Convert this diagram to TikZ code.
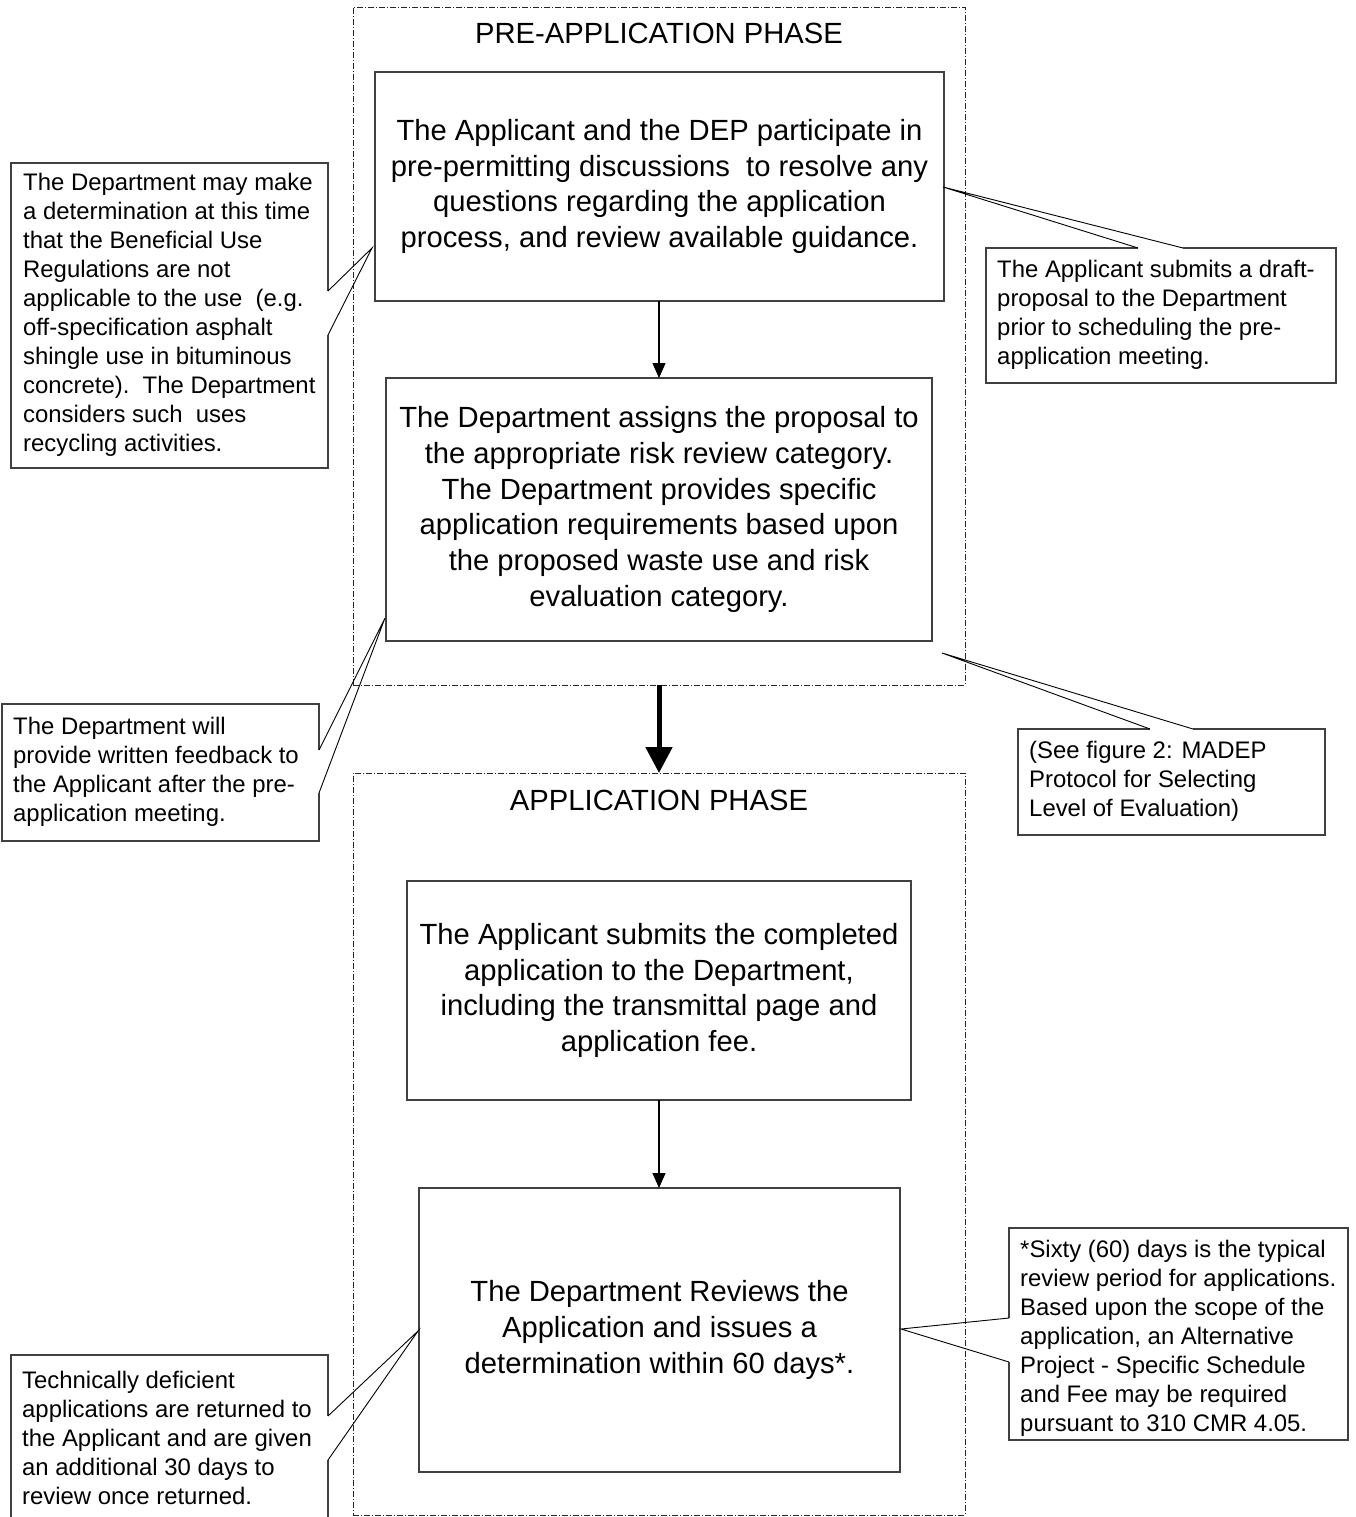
\documentclass[tikz,border=0pt]{standalone}
\usepackage{fontspec}
\setmainfont{Liberation Sans}
\usetikzlibrary{arrows.meta}
\newcommand\bigtxt{\fontsize{29.2}{35.7}\selectfont}
\newcommand\smalltxt{\fontsize{23.9}{29}\selectfont}
\begin{document}
\begin{tikzpicture}[x=1pt,y=-1pt,
  phase/.style={draw=black!85, line width=0.9pt, dash pattern=on 6pt off 2pt on 1pt off 2pt, inner sep=0pt, outer sep=0pt},
  mainbox/.style={draw=black!75, line width=1.5pt, inner sep=0pt, outer sep=0pt, align=center, font=\bigtxt},
  title/.style={font=\bigtxt, inner sep=0pt},
  cbox/.style={inner sep=0pt, outer sep=0pt},
  ctext/.style={font=\smalltxt, align=left, inner sep=0pt, anchor=west},
  cedge/.style={draw=black!75, line width=1.3pt, line join=miter},
  cptr/.style={draw=black, line width=0.9pt},
  flow/.style={-{Triangle[length=15pt,width=13pt]}, line width=1.2pt},
  bigflow/.style={-{Triangle[length=26pt,width=26pt]}, line width=5pt}]
\useasboundingbox[fill=white] (0,0) rectangle (1356,1517);
\clip (0,0) rectangle (1356,1517);

% phase frames
\node[phase, minimum width=612pt, minimum height=678pt] (pre) at (659,346) {};
\node[phase, minimum width=612pt, minimum height=742pt] (app) at (659,1144) {};
\node[title] (pretitle) at (659,33) {PRE-APPLICATION PHASE};
\node[title] (apptitle) at (659,800) {APPLICATION PHASE};

% main boxes
\node[mainbox, minimum width=569pt, minimum height=229pt] (A) at (659.5,186.5)
  {The Applicant and the DEP participate in\\pre-permitting discussions\ \ to resolve any\\questions regarding the application\\process, and review available guidance.};
\node[mainbox, minimum width=546pt, minimum height=263pt] (B) at (659,509.5)
  {The Department assigns the proposal to\\the appropriate risk review category.\\The Department provides specific\\application requirements based upon\\the proposed waste use and risk\\evaluation category.};
\node[mainbox, minimum width=504pt, minimum height=219pt] (C) at (659,990.5)
  {The Applicant submits the completed\\application to the Department,\\including the transmittal page and\\application fee.};
\node[mainbox, minimum width=481pt, minimum height=284pt] (D) at (659.5,1330)
  {The Department Reviews the\\Application and issues a\\determination within 60 days*.};

% flow arrows
\draw[flow] (A.south -| 659,0) -- (B.north -| 659,0);
\draw[bigflow] (pre.south) -- (app.north);
\draw[flow] (C.south -| 659,0) -- (D.north -| 659,0);

% callout L1
\node[cbox, minimum width=317pt, minimum height=305pt] (L1b) at (169.5,315.5) {};
\node[ctext] (L1) at (23,315) {The Department may make\\a determination at this time\\that the Beneficial Use\\Regulations are not\\applicable to the use\ \ (e.g.\\off-specification asphalt\\shingle use in bituminous\\concrete).\ \ The Department\\considers such\ \ uses\\recycling activities.};
\coordinate (L1t) at (372,248);
\coordinate (L1p) at (328,291);
\coordinate (L1q) at (328,335);
\draw[cedge] (L1p) -- (L1b.north east) -- (L1b.north west) -- (L1b.south west) -- (L1b.south east) -- (L1q);
\draw[cptr] (L1p) -- (L1t) -- (L1q);

% callout R1
\node[cbox, minimum width=350pt, minimum height=135pt] (R1b) at (1161,315.5) {};
\node[ctext] (R1) at (997,314.5) {The Applicant submits a draft-\\proposal to the Department\\prior to scheduling the pre-\\application meeting.};
\coordinate (R1t) at (943,187);
\coordinate (R1p) at (1138,248);
\coordinate (R1q) at (1183,248);
\draw[cedge] (R1q) -- (R1b.north east) -- (R1b.south east) -- (R1b.south west) -- (R1b.north west) -- (R1p);
\draw[cptr] (R1p) -- (R1t) -- (R1q);

% callout L2
\node[cbox, minimum width=317pt, minimum height=137pt] (L2b) at (160.5,772.5) {};
\node[ctext] (L2) at (13,771.5) {The Department will\\provide written feedback to\\the Applicant after the pre-\\application meeting.};
\coordinate (L2t) at (385,618);
\coordinate (L2p) at (319,750);
\coordinate (L2q) at (319,793);
\draw[cedge] (L2p) -- (L2b.north east) -- (L2b.north west) -- (L2b.south west) -- (L2b.south east) -- (L2q);
\draw[cptr] (L2p) -- (L2t) -- (L2q);

% callout R2
\node[cbox, minimum width=307pt, minimum height=106pt] (R2b) at (1171.5,782) {};
\node[ctext] (R2) at (1029,781) {(See figure 2: MADEP\\Protocol for Selecting\\Level of Evaluation)};
\coordinate (R2t) at (942,653);
\coordinate (R2p) at (1150,729);
\coordinate (R2q) at (1193,729);
\draw[cedge] (R2q) -- (R2b.north east) -- (R2b.south east) -- (R2b.south west) -- (R2b.north west) -- (R2p);
\draw[cptr] (R2p) -- (R2t) -- (R2q);

% callout L3
\node[cbox, minimum width=317pt, minimum height=170pt] (L3b) at (169.5,1440) {};
\node[ctext] (L3) at (22,1438) {Technically deficient\\applications are returned to\\the Applicant and are given\\an additional 30 days to\\review once returned.};
\coordinate (L3t) at (418,1331);
\coordinate (L3p) at (328,1416);
\coordinate (L3q) at (328,1460);
\draw[cedge] (L3p) -- (L3b.north east) -- (L3b.north west) -- (L3b.south west) -- (L3b.south east) -- (L3q);
\draw[cptr] (L3p) -- (L3t) -- (L3q);

% callout R3
\node[cbox, minimum width=339pt, minimum height=212pt] (R3b) at (1178.5,1334) {};
\node[ctext] (R3) at (1020,1338) {*Sixty (60) days is the typical\\review period for applications.\\Based upon the scope of the\\application, an Alternative\\Project - Specific Schedule\\and Fee may be required\\pursuant to 310 CMR 4.05.};
\coordinate (R3t) at (901,1329);
\coordinate (R3p) at (1009,1318);
\coordinate (R3q) at (1009,1362);
\draw[cedge] (R3p) -- (R3b.north west) -- (R3b.north east) -- (R3b.south east) -- (R3b.south west) -- (R3q);
\draw[cptr] (R3p) -- (R3t) -- (R3q);
\end{tikzpicture}
\end{document}
